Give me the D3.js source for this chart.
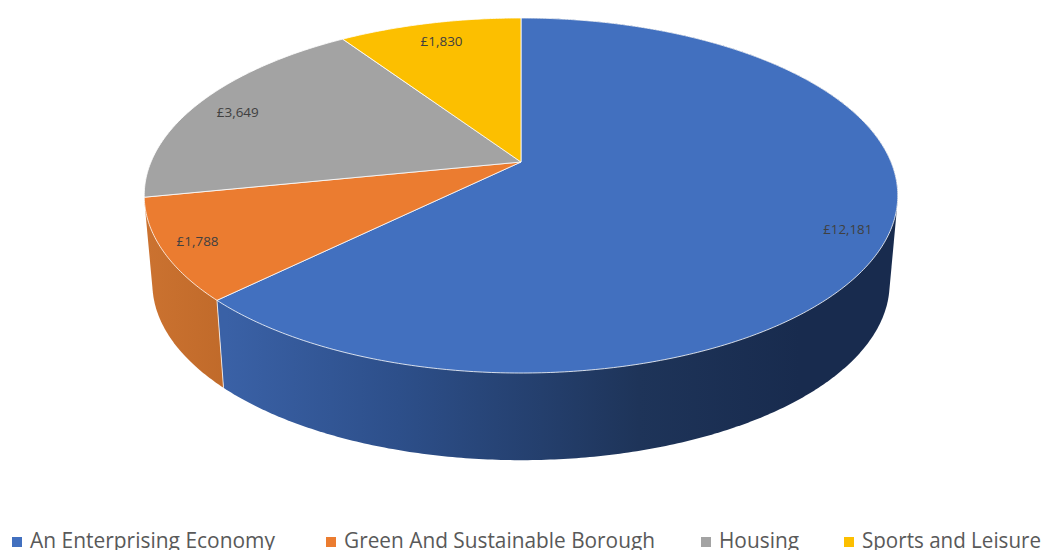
<!DOCTYPE html>
<html>
<head>
<meta charset="utf-8">
<script src="https://cdn.jsdelivr.net/npm/d3@7"></script>
<style>
html,body{margin:0;padding:0;background:#fff;overflow:hidden}
svg{display:block}
</style>
</head>
<body>
<svg id="chart" width="1041" height="550"></svg>
<script>
const categories = ["An Enterprising Economy", "Green And Sustainable Borough", "Housing", "Sports and Leisure"];
const values = [12181, 1788, 3649, 1830];
const valueLabels = ["£12,181", "£1,788", "£3,649", "£1,830"];
const colors = ["#4270BF", "#EB7C30", "#A3A3A3", "#FCBF00"];

const svg = d3.select("#chart");
const defs = svg.append("defs");

// Perspective projection of the pie's disc onto the page
const tilt = 0.1887;
const topDisc = {cx: 521, cy: 162, a: 370, b: 171.2};
const lowDisc = {cx: 521, cy: 250, a: 362, b: 170.5};
function project(disc, angle, r) {
  const u = Math.sin(angle) * r, v = Math.cos(angle) * r;
  const w = 1 + tilt * v;
  return [disc.cx + disc.a * u / w, disc.cy - disc.b * v / w];
}
function arcPoints(disc, a0, a1) {
  const n = Math.max(2, Math.ceil(Math.abs(a1 - a0) / 0.01));
  return d3.range(n + 1).map(i => project(disc, a0 + (a1 - a0) * i / n, 1));
}
const line = d3.line();

const arcs = d3.pie().sort(null).value(d => d)(values);

// Side gradients
const sideStops = [
  {id: "side0", x1: 226, x2: 800, stops: [["0%", "#3A61A6"], ["30%", "#2D4F8A"], ["72%", "#1E3459"], ["100%", "#182B4E"]]},
  {id: "side1", x1: 146, x2: 226, stops: [["0%", "#CB7230"], ["100%", "#C06A2A"]]}
];
sideStops.forEach(g => {
  const lg = defs.append("linearGradient").attr("id", g.id)
    .attr("gradientUnits", "userSpaceOnUse")
    .attr("x1", g.x1).attr("x2", g.x2).attr("y1", 0).attr("y2", 0);
  g.stops.forEach(s => lg.append("stop").attr("offset", s[0]).attr("stop-color", s[1]));
});

// Side walls of the front slices: outline is the hull of the two rims
[0, 1].forEach(i => {
  const d = arcs[i];
  const pts = arcPoints(topDisc, d.startAngle, d.endAngle)
    .concat(arcPoints(lowDisc, d.endAngle, d.startAngle));
  svg.append("path").attr("d", line(d3.polygonHull(pts)) + "Z").attr("fill", `url(#side${i})`);
});
// Edge between the two visible walls
svg.append("path")
  .attr("d", line([project(topDisc, arcs[0].endAngle, 1), project(lowDisc, arcs[0].endAngle, 1)]))
  .attr("stroke", "#fff").attr("stroke-opacity", 0.75).attr("stroke-width", 1).attr("fill", "none");

// Top faces
svg.append("g").selectAll("path").data(arcs).join("path")
  .attr("d", d => line([[topDisc.cx, topDisc.cy]].concat(arcPoints(topDisc, d.startAngle, d.endAngle))) + "Z")
  .attr("fill", (d, i) => colors[i])
  .attr("stroke", "#fff").attr("stroke-width", 1).attr("stroke-opacity", 0.8)
  .attr("stroke-linejoin", "round");

// Data labels
const labelRadius = [0.895, 0.91, 0.88, 0.85];
const labelShift = [4, 0, 4, 0];
svg.append("g").selectAll("text").data(arcs).join("text")
  .attr("transform", (d, i) => {
    const p = project(topDisc, (d.startAngle + d.endAngle) / 2, labelRadius[i]);
    return `translate(${p[0]},${p[1] + labelShift[i]})`;
  })
  .attr("text-anchor", "middle").attr("dy", "0.36em")
  .attr("font-family", "Open Sans, sans-serif").attr("font-size", 12.5)
  .attr("fill", "#404040")
  .attr("textLength", (d, i) => valueLabels[i].length * 7)
  .attr("lengthAdjust", "spacingAndGlyphs")
  .text((d, i) => valueLabels[i]);

// Legend
const legendX = [12, 326, 701, 844];
const legendW = [245, 311, 80, 179];
const legend = svg.append("g").selectAll("g").data(categories).join("g")
  .attr("transform", (d, i) => `translate(${legendX[i]},0)`);
legend.append("rect").attr("x", 0).attr("y", 537).attr("width", 10).attr("height", 10)
  .attr("fill", (d, i) => colors[i]);
legend.append("text").attr("x", 18).attr("y", 548)
  .attr("font-family", "Open Sans, sans-serif").attr("font-size", 21)
  .attr("fill", "#595959")
  .attr("textLength", (d, i) => legendW[i])
  .attr("lengthAdjust", "spacingAndGlyphs")
  .text(d => d);
</script>
</body>
</html>
